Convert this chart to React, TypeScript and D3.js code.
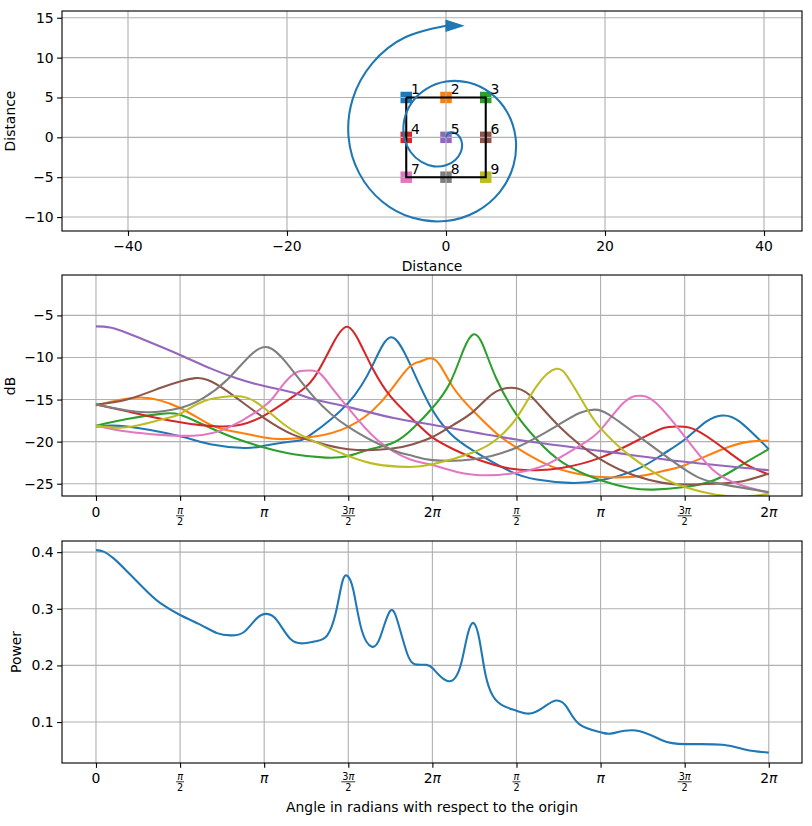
import { useEffect, useRef } from "react";
import * as d3 from "d3";

const WIDTH = 812;
const HEIGHT = 826;

const tab10 = ["#1f77b4", "#ff7f0e", "#2ca02c", "#d62728", "#9467bd", "#8c564b", "#e377c2", "#7f7f7f", "#bcbd22"];

// Microphone grid, in distance units
const micX = [-5, 0, 5, -5, 0, 5, -5, 0, 5];
const micY = [5, 5, 5, 0, 0, 0, -5, -5, -5];
const micLabels = ["1", "2", "3", "4", "5", "6", "7", "8", "9"];
const boxX = [-5, 5, 5, -5, -5];
const boxY = [5, 5, -5, -5, 5];

const spiralX = [0, 0.17, 0.62, 1.21, 1.75, 2.02, 1.86, 1.17, 0, -1.51, -3.09, -4.45, -5.25, -5.25, -4.33, -2.51, 0, 2.85, 5.57, 7.68, 8.75, 8.49, 6.81, 3.85, 0, -4.19, -8.04, -10.91, -12.25, -11.72, -9.28, -5.19, 0];
const spiralY = [0, 0.4, 0.62, 0.5, 0, -0.84, -1.86, -2.83, -3.5, -3.64, -3.09, -1.84, 0, 2.18, 4.33, 6.06, 7, 6.87, 5.57, 3.18, 0, -3.52, -6.81, -9.3, -10.5, -10.1, -8.04, -4.52, 0, 4.86, 9.28, 12.53, 14];

// Angles below are in units of pi/2, running over two turns
const mic1: [number, number][] = [[0, -18.2], [0.37, -18.2], [1, -19.36], [1.36, -20.3], [1.76, -20.75], [2, -20.5], [2.35, -19.95], [2.55, -19.2], [3, -15.4], [3.3, -10.7], [3.51, -7.6], [3.73, -10.7], [3.97, -15.7], [4.21, -19], [4.49, -21.1], [4.92, -23.5], [5.24, -24.5], [5.63, -24.9], [6, -24.6], [6.43, -23.3], [6.74, -21.5], [7, -19.75], [7.26, -17.6], [7.45, -16.9], [7.65, -17.6], [8, -20.9]];
const mic2: [number, number][] = [[0, -15.7], [0.53, -14.75], [1, -16], [1.36, -18], [1.64, -18.8], [2, -19.5], [2.23, -19.7], [2.6, -19.4], [3, -18.25], [3.38, -15.4], [3.69, -11.5], [3.85, -10.5], [3.97, -10.1], [4.09, -10.9], [4.25, -13.6], [4.49, -16.4], [4.76, -19], [5, -20.7], [5.36, -22.7], [5.67, -23.7], [6, -24.2], [6.46, -24.1], [6.74, -23.5], [7, -22.8], [7.45, -20.9], [7.77, -20], [8, -19.9]];
const mic3: [number, number][] = [[0, -18.1], [0.37, -17.3], [0.77, -16.7], [1, -16.8], [1.28, -18], [1.64, -19.55], [2, -20.7], [2.35, -21.5], [2.73, -21.9], [3, -21.7], [3.26, -20.9], [3.54, -20.1], [3.77, -18.4], [4, -16], [4.21, -13], [4.37, -9.1], [4.49, -7.25], [4.6, -8.5], [4.76, -12.5], [5, -16.8], [5.24, -19.75], [5.55, -22.5], [6, -24.6], [6.35, -25.5], [6.62, -25.7], [7, -25.4], [7.37, -24.5], [7.69, -22.7], [8, -20.9]];
const mic4: [number, number][] = [[0, -15.6], [0.37, -16.4], [1, -17.7], [1.48, -18.2], [1.72, -18], [2, -16.9], [2.35, -14.6], [2.6, -12.3], [2.82, -8.3], [2.99, -6.35], [3.14, -8.3], [3.3, -11.5], [3.5, -14.6], [3.77, -17.4], [4, -19.5], [4.25, -20.9], [4.53, -22.1], [4.92, -23.2], [5.24, -23.4], [5.55, -23.1], [6, -21.9], [6.46, -19.75], [6.74, -18.4], [6.92, -18.2], [7.13, -18.6], [7.45, -20.7], [7.73, -22.7], [8, -23.9]];
const mic5: [number, number][] = [[0, -6.3], [0.17, -6.45], [0.37, -7.1], [0.57, -7.9], [1, -9.7], [1.36, -11.3], [1.68, -12.5], [2, -13.4], [2.35, -14.2], [2.6, -15], [3, -15.9], [3.54, -17.2], [4, -18], [5, -19.75], [6, -21.1], [7, -22.4], [8, -23.4]];
const mic6: [number, number][] = [[0, -15.6], [0.37, -15], [0.77, -13.6], [1, -12.85], [1.18, -12.45], [1.32, -12.65], [1.56, -14], [2, -17.2], [2.35, -19.2], [2.6, -20], [3, -20.9], [3.5, -20.85], [3.77, -20.3], [4, -19.45], [4.25, -18], [4.49, -16.4], [4.72, -14.3], [4.94, -13.6], [5.16, -14.5], [5.5, -18.1], [6, -22.1], [6.43, -24.1], [6.74, -24.9], [7, -25.1], [7.37, -25], [7.69, -24.7], [8, -23.8]];
const mic7: [number, number][] = [[0, -18.1], [0.37, -18.8], [0.77, -19.2], [1.16, -19.3], [1.56, -18.4], [2, -15.8], [2.15, -14.2], [2.31, -12.3], [2.43, -11.6], [2.55, -11.55], [2.67, -11.95], [2.82, -13.8], [3, -16], [3.34, -19.75], [3.73, -22.1], [3.97, -22.7], [4.29, -23.6], [4.65, -24], [5, -23.7], [5.36, -22.7], [5.75, -20.5], [6, -18.6], [6.27, -15.4], [6.46, -14.55], [6.66, -15.4], [7, -19.4], [7.33, -23.3], [7.65, -25.1], [8, -26.1]];
const mic8: [number, number][] = [[0, -15.6], [0.37, -16.3], [0.65, -16.5], [1, -16], [1.28, -14.8], [1.56, -12.65], [1.84, -9.7], [2.05, -8.8], [2.27, -10.7], [2.6, -14.8], [3, -18.25], [3.5, -20.9], [3.77, -21.7], [4, -22.2], [4.49, -22.1], [5, -20.7], [5.5, -18], [5.75, -16.6], [5.93, -16.2], [6.1, -16.8], [6.46, -19.4], [7, -23.3], [7.37, -24.9], [8, -26]];
const mic9: [number, number][] = [[0, -18.1], [0.37, -18.3], [0.77, -17.4], [1, -16.7], [1.28, -15.2], [1.6, -14.6], [1.8, -14.8], [2, -16], [2.27, -18.2], [2.6, -20], [3, -21.7], [3.34, -22.7], [3.69, -23], [4, -22.7], [4.49, -21.25], [4.76, -19.75], [5, -17.2], [5.24, -13.4], [5.47, -11.35], [5.63, -12.65], [5.82, -15.8], [6, -18.4], [6.35, -21.7], [6.74, -24.3], [7, -25.4], [7.37, -26.3], [7.73, -26.5], [8, -26.2]];
const micSeries = [mic1, mic2, mic3, mic4, mic5, mic6, mic7, mic8, mic9];

const power: [number, number][] = [[0, 0.4036], [0.09, 0.401], [0.21, 0.389], [0.37, 0.366], [0.61, 0.33], [0.77, 0.3095], [1, 0.289], [1.24, 0.272], [1.44, 0.257], [1.6, 0.253], [1.76, 0.259], [1.91, 0.283], [2.03, 0.291], [2.15, 0.28], [2.31, 0.247], [2.47, 0.239], [2.63, 0.243], [2.75, 0.253], [2.85, 0.292], [2.93, 0.348], [2.99, 0.358], [3.06, 0.333], [3.16, 0.262], [3.28, 0.233], [3.38, 0.25], [3.5, 0.2965], [3.6, 0.271], [3.7, 0.221], [3.79, 0.202], [3.93, 0.201], [4.01, 0.194], [4.1, 0.18], [4.2, 0.172], [4.28, 0.18], [4.35, 0.208], [4.42, 0.255], [4.49, 0.275], [4.56, 0.245], [4.63, 0.185], [4.72, 0.146], [4.84, 0.129], [5, 0.12], [5.16, 0.115], [5.32, 0.126], [5.47, 0.138], [5.6, 0.126], [5.75, 0.096], [6, 0.082], [6.14, 0.08], [6.42, 0.085], [6.73, 0.068], [7, 0.061], [7.45, 0.06], [7.73, 0.051], [8, 0.046]];

const angleTicks = [0, 1, 2, 3, 4, 5, 6, 7, 8];
// [numerator, denominator] for fractions, otherwise just one entry
const angleLabels = [["0"], ["π", "2"], ["π"], ["3π", "2"], ["2π"], ["π", "2"], ["π"], ["3π", "2"], ["2π"]];

const distanceTicks = [-40, -20, 0, 20, 40];
const distanceYTicks = [-10, -5, 0, 5, 10, 15];
const dbTicks = [-25, -20, -15, -10, -5];
const powerTicks = [0.1, 0.2, 0.3, 0.4];

const FONT = "'DejaVu Sans', sans-serif";
const FS = 13.9;
const LINE_W = 2.08;
const GRID = "#b0b0b0";
const MARKER = 11.5;
const left = 62;
const right = 802;

const minus = (s: string) => s.replace("-", "\u2212");

export default function App() {
  const svgRef = useRef<SVGSVGElement>(null);

  useEffect(() => {
    if (!svgRef.current) return;
    const svg = d3.select(svgRef.current);
    svg.selectAll("*").remove();
    const defs = svg.append("defs");

    // common frame, ticks and grid for one panel
    const drawFrame = (
      id: string,
      x: d3.ScaleLinear<number, number>,
      y: d3.ScaleLinear<number, number>,
      xTicks: number[],
      yTicks: number[],
      yFormat: (v: number) => string
    ) => {
      const [bottom, top] = y.range();
      defs.append("clipPath").attr("id", id)
        .append("rect").attr("x", left).attr("y", top).attr("width", right - left).attr("height", bottom - top);

      const grid = svg.append("g").attr("class", "grid");
      return {
        grid,
        finish() {
          const ax = svg.append("g").attr("transform", `translate(0,${bottom})`)
            .call(d3.axisBottom(x).tickValues(xTicks).tickSize(4.86).tickPadding(4).tickFormat(() => ""));
          ax.select(".domain").remove();
          ax.selectAll("line").attr("stroke", "#000").attr("stroke-width", 1.11);

          const ay = svg.append("g").attr("transform", `translate(${left},0)`)
            .call(d3.axisLeft(y).tickValues(yTicks).tickSize(4.86).tickPadding(3.5).tickFormat(d => yFormat(+d)));
          ay.select(".domain").remove();
          ay.selectAll("line").attr("stroke", "#000").attr("stroke-width", 1.11);
          ay.selectAll("text").attr("font-family", FONT).attr("font-size", FS).attr("fill", "#000");

          svg.append("rect").attr("x", left).attr("y", top).attr("width", right - left).attr("height", bottom - top)
            .attr("fill", "none").attr("stroke", "#000").attr("stroke-width", 1.11);
        },
      };
    };

    const drawGrid = (
      g: d3.Selection<SVGGElement, unknown, null, undefined>,
      x: d3.ScaleLinear<number, number>,
      y: d3.ScaleLinear<number, number>,
      xTicks: number[],
      yTicks: number[]
    ) => {
      const [bottom, top] = y.range();
      g.selectAll(".gx").data(xTicks).enter().append("line").attr("class", "gx")
        .attr("x1", d => x(d)).attr("x2", d => x(d)).attr("y1", top).attr("y2", bottom)
        .attr("stroke", GRID).attr("stroke-width", 1.11);
      g.selectAll(".gy").data(yTicks).enter().append("line").attr("class", "gy")
        .attr("x1", left).attr("x2", right).attr("y1", d => y(d)).attr("y2", d => y(d))
        .attr("stroke", GRID).attr("stroke-width", 1.11);
    };

    const drawAngleLabels = (x: d3.ScaleLinear<number, number>, bottom: number) => {
      angleTicks.forEach((t, i) => {
        const lab = angleLabels[i];
        const g = svg.append("g").attr("transform", `translate(${x(t)},${bottom})`)
          .attr("font-family", FONT).attr("text-anchor", "middle").attr("fill", "#000");
        const put = (s: string, yy: number, fs: number) => {
          const el = g.append("text").attr("y", yy).attr("font-size", fs);
          if (s.includes("π")) {
            if (s.length > 1) el.append("tspan").text(s[0]);
            el.append("tspan").attr("font-style", "italic").text("π");
          } else el.text(s);
        };
        if (lab.length === 1) {
          put(lab[0], 20.5, FS);
        } else {
          put(lab[0], 17.5, 9.7);
          put(lab[1], 29.3, 9.7);
          const half = lab[0].length > 1 ? 7 : 4;
          g.append("line").attr("x1", -half).attr("x2", half).attr("y1", 19.8).attr("y2", 19.8)
            .attr("stroke", "#000").attr("stroke-width", 0.8);
        }
      });
    };

    const yLabel = (s: string, px: number, py: number) =>
      svg.append("text").attr("transform", `translate(${px},${py}) rotate(-90)`)
        .attr("text-anchor", "middle").attr("font-family", FONT).attr("font-size", FS).attr("fill", "#000").text(s);

    const xLabel = (s: string, py: number) =>
      svg.append("text").attr("x", (left + right) / 2).attr("y", py)
        .attr("text-anchor", "middle").attr("font-family", FONT).attr("font-size", FS).attr("fill", "#000").text(s);

    // --- Top panel: array geometry and trajectory
    const xTop = d3.scaleLinear().domain([-48.3, 44.78]).range([left, right]);
    const yTop = d3.scaleLinear().domain([-11.75, 15.85]).range([231, 11]);
    const top = drawFrame("clip-top", xTop, yTop, distanceTicks, distanceYTicks, v => minus(String(v)));
    const gTop = svg.append("g").attr("clip-path", "url(#clip-top)");

    // scatter sits under the grid, lines on top of it
    micX.forEach((mx, i) => {
      gTop.append("rect")
        .attr("x", xTop(mx) - MARKER / 2).attr("y", yTop(micY[i]) - MARKER / 2).attr("width", MARKER).attr("height", MARKER)
        .attr("fill", tab10[i]);
    });
    const gridTop = gTop.append("g");
    drawGrid(gridTop as any, xTop, yTop, distanceTicks, distanceYTicks);

    const boxLine = d3.line<number>().x(d => xTop(boxX[d])).y(d => yTop(boxY[d]));
    gTop.append("path").attr("d", boxLine(d3.range(boxX.length)))
      .attr("fill", "none").attr("stroke", "#000").attr("stroke-width", LINE_W);

    const spiralLine = d3.line<number>().x(d => xTop(spiralX[d])).y(d => yTop(spiralY[d])).curve(d3.curveNatural);
    gTop.append("path").attr("d", spiralLine(d3.range(spiralX.length)))
      .attr("fill", "none").attr("stroke", tab10[0]).attr("stroke-width", LINE_W);

    // arrow head at end of trajectory
    const endX = xTop(spiralX[spiralX.length - 1]);
    const endY = yTop(spiralY[spiralY.length - 1]);
    gTop.append("path").attr("d", `M${endX},${endY - 5.5}L${endX + 17},${endY}L${endX},${endY + 5.5}Z`)
      .attr("fill", tab10[0]).attr("stroke", tab10[0]).attr("stroke-width", 1.1);

    micLabels.forEach((s, i) => {
      svg.append("text").attr("x", xTop(micX[i] + 0.6)).attr("y", yTop(micY[i] + 0.45))
        .attr("font-family", FONT).attr("font-size", FS).attr("fill", "#000").text(s);
    });
    top.finish();
    const axTop = svg.append("g").attr("font-family", FONT).attr("font-size", FS).attr("text-anchor", "middle");
    distanceTicks.forEach(t => {
      axTop.append("text").attr("x", xTop(t)).attr("y", 251).attr("fill", "#000").text(minus(String(t)));
    });
    xLabel("Distance", 271);
    yLabel("Distance", 14.5, 121);

    // --- Middle panel: level at each microphone
    const xAngle = d3.scaleLinear().domain([-0.404, 8.395]).range([left, right]);
    const yDb = d3.scaleLinear().domain([-26.46, -0.2]).range([496, 275]);
    const mid = drawFrame("clip-mid", xAngle, yDb, angleTicks, dbTicks, v => minus(String(v)));
    drawGrid(mid.grid as any, xAngle, yDb, angleTicks, dbTicks);
    const gMid = svg.append("g").attr("clip-path", "url(#clip-mid)");
    const dbLine = d3.line<[number, number]>().x(d => xAngle(d[0])).y(d => yDb(d[1])).curve(d3.curveNatural);
    micSeries.forEach((s, i) => {
      gMid.append("path").attr("d", dbLine(s)).attr("fill", "none").attr("stroke", tab10[i]).attr("stroke-width", LINE_W);
    });
    mid.finish();
    drawAngleLabels(xAngle, 496);
    yLabel("dB", 14.5, 386);

    // --- Bottom panel: output power
    const yPower = d3.scaleLinear().domain([0.0277, 0.4197]).range([763, 541]);
    const bot = drawFrame("clip-bot", xAngle, yPower, angleTicks, powerTicks, v => v.toFixed(1));
    drawGrid(bot.grid as any, xAngle, yPower, angleTicks, powerTicks);
    const powerLine = d3.line<[number, number]>().x(d => xAngle(d[0])).y(d => yPower(d[1])).curve(d3.curveNatural);
    svg.append("g").attr("clip-path", "url(#clip-bot)").append("path").attr("d", powerLine(power))
      .attr("fill", "none").attr("stroke", tab10[0]).attr("stroke-width", LINE_W);
    bot.finish();
    drawAngleLabels(xAngle, 762);
    xLabel("Angle in radians with respect to the origin", 812);
    yLabel("Power", 20.5, 652);
  }, []);

  return (
    <svg
      ref={svgRef}
      width={WIDTH}
      height={HEIGHT}
      style={{ position: "absolute", left: 0, top: 0, background: "#fff" }}
    />
  );
}
